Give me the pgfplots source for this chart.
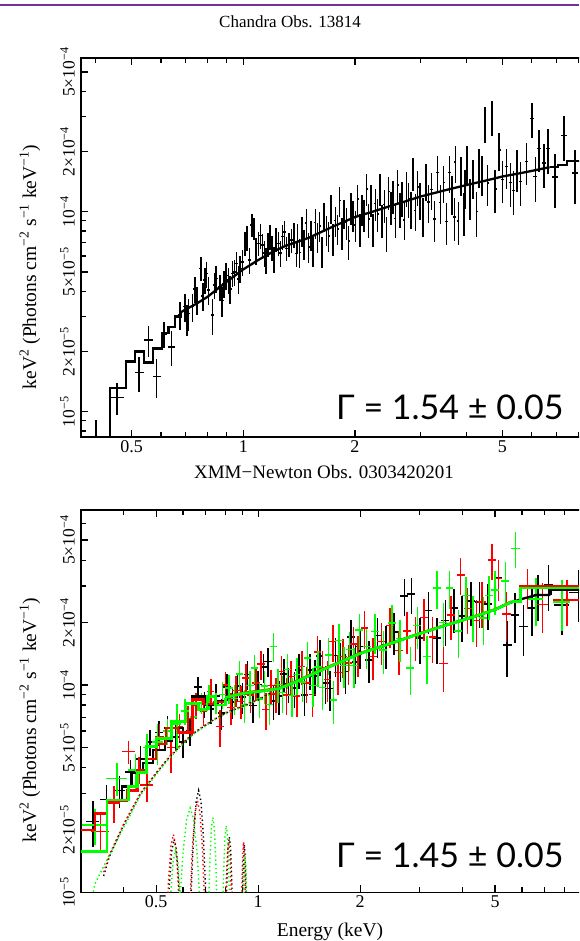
\documentclass[border=0pt]{standalone}
\usepackage{pgfplots}
\pgfplotsset{compat=1.18}
\usepackage{fontspec}
\setmainfont{Liberation Serif}
\newfontfamily\gammafont{Lato}

\definecolor{xgreen}{RGB}{0,255,0}
\definecolor{xred}{RGB}{255,0,0}
\definecolor{slidepurple}{RGB}{112,48,160}

\newcommand{\up}[1]{\textsuperscript{#1}}

\begin{document}
\begin{tikzpicture}
\useasboundingbox (0pt,0pt) rectangle (579pt,941pt);
\clip (0pt,0pt) rectangle (579pt,941pt);
\draw[slidepurple, line width=2.5pt] (0pt,936pt) -- (579pt,936pt);
\node[font=\fontsize{17}{19}\selectfont] at (290pt,919pt) {Chandra Obs. 13814};
\node[font=\fontsize{19}{21}\selectfont] at (324pt,469pt) {XMM−Newton Obs. 0303420201};
\node[rotate=90, font=\fontsize{19.5}{21}\selectfont] at (30pt,674pt) {keV\up{2} (Photons cm\up{−2} s\up{−1} keV\up{−1})};
\node[rotate=90, font=\fontsize{19.5}{21}\selectfont] at (30pt,221pt) {keV\up{2} (Photons cm\up{−2} s\up{−1} keV\up{−1})};
\node[anchor=base, font=\fontsize{19.5}{21}\selectfont] at (330pt,5pt) {Energy (keV)};

% ---------------- Chandra ----------------
\begin{axis}[
  at={(81pt,504.3pt)}, anchor=south west,
  width=533.1pt, height=378.4pt, scale only axis,
  xmode=log, ymode=log,
  xmin=0.365, xmax=10, ymin=7.5e-6, ymax=5.85e-4,
  axis line style={line width=1.6pt},
  tick align=inside,
  major tick length=7pt, minor tick length=5pt,
  every tick/.style={line width=1.2pt, black},
  xtick={0.5,1,2,5}, xticklabels={0.5,1,2,5},
  minor xtick={0.4,0.6,0.7,0.8,0.9,3,4,6,7,8,9},
  ytick={1e-5,2e-5,5e-5,1e-4,2e-4,5e-4},
  yticklabels={{10\up{−5}},{2×10\up{−5}},{5×10\up{−5}},{10\up{−4}},{2×10\up{−4}},{5×10\up{−4}}},
  minor ytick={8e-6,9e-6,3e-5,4e-5,6e-5,7e-5,8e-5,9e-5,3e-4,4e-4},
  xticklabel style={font=\fontsize{18}{19}\selectfont},
  yticklabel style={font=\fontsize{17.5}{18}\selectfont, rotate=90, anchor=south, inner xsep=0pt, inner ysep=6pt},
]
\addplot[draw=none, mark=none, forget plot,
  error bars/.cd, x dir=both, x explicit relative, y dir=both, y explicit relative,
  error mark=none, error bar style={draw=black, line width=1.5pt}]
  table[x=E, y=F, x error=dx, y error=dy] {
E F dx dy
0.400 6.5e-6 0.05 0.40
0.457 1.18e-5 0.046 0.18
0.524 1.57e-5 0.028 0.20
0.555 2.28e-5 0.026 0.18
0.584 1.50e-5 0.025 0.22
0.612 2.44e-5 0.02 0.15
0.641 2.11e-5 0.02 0.20
0.675 3.04e-5 0.012 0.16
0.696 3.35e-5 0.012 0.16
0.705 2.90e-5 0.01 0.18
0.712 3.10e-5 0.01 0.18
0.730 3.35e-5 0.01 0.16
0.740 4.10e-5 0.01 0.15
0.749 3.61e-5 0.01 0.16
0.768 5.21e-5 0.01 0.14
0.778 3.80e-5 0.01 0.16
0.788 4.55e-5 0.01 0.15
0.797 4.90e-5 0.01 0.15
0.805 4.06e-5 0.01 0.16
0.826 3.04e-5 0.01 0.20
0.835 4.30e-5 0.01 0.15
0.844 4.64e-5 0.01 0.15
0.865 4.22e-5 0.01 0.15
0.876 3.60e-5 0.01 0.17
0.887 4.38e-5 0.01 0.15
0.899 4.80e-5 0.01 0.15
0.911 4.55e-5 0.01 0.15
0.922 4.10e-5 0.01 0.16
0.934 4.92e-5 0.01 0.15
0.947 5.00e-5 0.01 0.15
0.960 5.52e-5 0.01 0.14
0.970 4.60e-5 0.01 0.16
0.980 5.20e-5 0.01 0.15
0.995 5.60e-5 0.01 0.15
1.011 6.95e-5 0.008 0.14
1.024 7.40e-5 0.008 0.14
1.038 5.73e-5 0.008 0.15
1.054 8.60e-5 0.008 0.13
1.069 8.26e-5 0.008 0.13
1.083 6.40e-5 0.008 0.15
1.098 6.95e-5 0.008 0.14
1.112 7.60e-5 0.008 0.14
1.126 6.80e-5 0.008 0.14
1.139 6.20e-5 0.008 0.15
1.151 5.73e-5 0.008 0.15
1.165 6.90e-5 0.008 0.14
1.180 7.50e-5 0.008 0.14
1.195 6.60e-5 0.008 0.14
1.210 5.80e-5 0.008 0.15
1.226 7.30e-5 0.008 0.14
1.243 6.95e-5 0.008 0.14
1.260 6.20e-5 0.008 0.15
1.277 7.50e-5 0.008 0.14
1.293 7.90e-5 0.008 0.14
1.309 6.56e-5 0.008 0.14
1.330 6.90e-5 0.008 0.14
1.350 7.22e-5 0.008 0.14
1.370 7.70e-5 0.008 0.14
1.393 6.19e-5 0.008 0.15
1.400 7.40e-5 0.006 0.17
1.419 6.27e-5 0.006 0.17
1.439 8.05e-5 0.006 0.17
1.459 6.90e-5 0.006 0.17
1.480 8.80e-5 0.006 0.17
1.500 6.66e-5 0.006 0.17
1.521 7.64e-5 0.006 0.17
1.542 6.37e-5 0.006 0.17
1.564 8.82e-5 0.006 0.17
1.585 7.53e-5 0.006 0.17
1.607 8.48e-5 0.006 0.17
1.630 6.36e-5 0.006 0.18
1.652 9.49e-5 0.006 0.17
1.675 8.13e-5 0.006 0.17
1.699 7.57e-5 0.006 0.17
1.722 1.04e-4 0.006 0.17
1.746 7.33e-5 0.006 0.18
1.771 9.04e-5 0.006 0.17
1.795 8.20e-5 0.006 0.17
1.820 1.135e-4 0.006 0.17
1.846 7.86e-5 0.006 0.18
1.871 9.82e-5 0.006 0.17
1.897 8.85e-5 0.006 0.18
1.924 7.12e-5 0.006 0.19
1.950 1.051e-4 0.006 0.18
1.978 9.60e-5 0.006 0.18
2.005 8.57e-5 0.006 0.18
2.033 1.159e-4 0.006 0.18
2.061 8.23e-5 0.006 0.19
2.090 1.031e-4 0.006 0.18
2.119 9.71e-5 0.006 0.18
2.149 1.302e-4 0.006 0.18
2.178 9.17e-5 0.006 0.19
2.209 1.153e-4 0.006 0.18
2.240 8.22e-5 0.006 0.19
2.271 1.101e-4 0.006 0.18
2.302 9.76e-5 0.006 0.19
2.334 1.302e-4 0.006 0.18
2.367 9.09e-5 0.006 0.19
2.400 1.084e-4 0.006 0.19
2.433 7.88e-5 0.006 0.20
2.467 1.260e-4 0.006 0.19
2.501 1.059e-4 0.006 0.19
2.536 1.197e-4 0.006 0.19
2.571 9.24e-5 0.006 0.20
2.607 1.359e-4 0.006 0.19
2.643 1.038e-4 0.006 0.20
2.680 1.180e-4 0.006 0.20
2.717 9.09e-5 0.006 0.21
2.755 1.323e-4 0.006 0.20
2.793 1.163e-4 0.006 0.20
2.832 1.034e-4 0.006 0.21
2.871 1.563e-4 0.006 0.19
2.911 1.016e-4 0.006 0.21
2.952 1.331e-4 0.006 0.20
2.993 1.152e-4 0.006 0.21
3.05 9.60e-5 0.007 0.22
3.11 1.43e-4 0.007 0.21
3.16 1.12e-4 0.007 0.22
3.22 1.29e-4 0.007 0.21
3.28 9.20e-5 0.007 0.23
3.34 1.575e-4 0.007 0.21
3.40 1.11e-4 0.007 0.22
3.47 1.40e-4 0.007 0.21
3.53 8.96e-5 0.007 0.24
3.60 1.57e-4 0.007 0.21
3.66 1.235e-4 0.007 0.22
3.71 9.40e-5 0.007 0.24
3.73 1.77e-4 0.007 0.21
3.80 9.00e-5 0.007 0.24
3.87 1.535e-4 0.007 0.22
3.94 1.00e-4 0.007 0.24
3.96 1.32e-4 0.007 0.22
4.01 1.74e-4 0.007 0.22
4.09 1.18e-4 0.007 0.23
4.16 1.49e-4 0.007 0.22
4.26 1.00e-4 0.007 0.25
4.32 1.68e-4 0.007 0.22
4.40 1.55e-4 0.007 0.23
4.49 2.77e-4 0.007 0.20
4.56 1.39e-4 0.007 0.23
4.69 2.99e-4 0.007 0.20
4.78 1.30e-4 0.008 0.24
4.90 2.04e-4 0.008 0.22
5.00 1.45e-4 0.008 0.24
5.13 1.68e-4 0.008 0.23
5.25 1.40e-4 0.008 0.25
5.35 1.28e-4 0.008 0.25
5.47 1.65e-4 0.008 0.24
5.60 1.42e-4 0.008 0.25
5.81 1.78e-4 0.010 0.24
6.00 2.93e-4 0.012 0.20
6.13 1.50e-4 0.012 0.25
6.28 2.07e-4 0.012 0.24
6.47 1.75e-4 0.012 0.25
6.64 2.07e-4 0.012 0.25
6.92 1.49e-4 0.02 0.30
7.33 2.40e-4 0.02 0.25
7.85 1.56e-4 0.02 0.30
};
% folded model
\addplot[black, line width=2.3pt, const plot mark left] coordinates {
(0.40,5e-6)(0.437,1.31e-5)(0.483,1.78e-5)(0.510,2.0e-5)(0.540,1.76e-5)
(0.570,2.07e-5)(0.603,2.47e-5)(0.628,2.66e-5)(0.654,2.99e-5)(0.68,3.15e-5)};
\addplot[black, line width=2.3pt] coordinates {
(0.68,3.15e-5)(0.70,3.25e-5)(0.75,3.48e-5)(0.80,3.75e-5)(0.85,4.1e-5)(0.90,4.45e-5)
(0.95,4.8e-5)(1.0,5.15e-5)(1.1,5.75e-5)(1.2,6.3e-5)(1.3,6.75e-5)(1.5,7.4e-5)
(1.75,8.45e-5)(2.0,9.4e-5)(2.25,1.005e-4)(2.5,1.07e-4)(2.75,1.13e-4)(3.0,1.19e-4)
(3.5,1.28e-4)(4.0,1.36e-4)(4.5,1.43e-4)(5.0,1.5e-4)(5.5,1.55e-4)(6.0,1.6e-4)(6.7,1.67e-4)};
\addplot[black, line width=2.3pt, const plot mark left] coordinates {
(6.7,1.67e-4)(7.05,1.71e-4)(7.45,1.79e-4)(10,1.79e-4)};
\end{axis}
\node[anchor=base east, font=\gammafont\fontsize{34}{38}\selectfont] at (567pt,521pt) {Γ = 1.54 ± 0.05};

% ---------------- XMM-Newton ----------------
\begin{axis}[
  at={(81pt,48.7pt)}, anchor=south west,
  width=516.1pt, height=382.5pt, scale only axis,
  xmode=log, ymode=log,
  xmin=0.3, xmax=10, ymin=1e-5, ymax=7e-4,
  axis line style={line width=1.6pt},
  tick align=inside,
  major tick length=7pt, minor tick length=5pt,
  every tick/.style={line width=1.2pt, black},
  xtick={0.5,1,2,5}, xticklabels={0.5,1,2,5},
  minor xtick={0.4,0.6,0.7,0.8,0.9,3,4,6,7,8,9},
  ytick={1e-5,2e-5,5e-5,1e-4,2e-4,5e-4},
  yticklabels={{10\up{−5}},{2×10\up{−5}},{5×10\up{−5}},{10\up{−4}},{2×10\up{−4}},{5×10\up{−4}}},
  minor ytick={3e-5,4e-5,6e-5,7e-5,8e-5,9e-5,3e-4,4e-4,6e-4},
  xticklabel style={font=\fontsize{18}{19}\selectfont},
  yticklabel style={font=\fontsize{17.5}{18}\selectfont, rotate=90, anchor=south, inner xsep=0pt, inner ysep=6pt},
]
% black
\addplot[draw=none, mark=none, forget plot,
  error bars/.cd, x dir=both, x explicit relative, y dir=both, y explicit relative,
  error mark=none, error bar style={draw=black, line width=1.5pt}]
  table[x=E, y=F, x error=dx, y error=dy] {
E F dx dy
0.325 2.20e-5 0.045 0.25
0.357 2.80e-5 0.045 0.18
0.390 3.10e-5 0.04 0.18
0.420 3.80e-5 0.035 0.15
0.450 4.40e-5 0.03 0.15
0.480 5.30e-5 0.03 0.14
0.510 5.90e-5 0.03 0.14
0.540 6.20e-5 0.025 0.14
0.570 5.60e-5 0.025 0.14
0.600 5.30e-5 0.025 0.16
0.630 6.00e-5 0.025 0.15
0.665 9.80e-5 0.025 0.12
0.695 8.10e-5 0.025 0.14
0.725 7.66e-5 0.025 0.15
0.752 8.84e-5 0.025 0.15
0.780 7.31e-5 0.025 0.17
0.810 9.80e-5 0.025 0.15
0.840 8.28e-5 0.025 0.17
0.870 9.90e-5 0.025 0.16
0.900 8.74e-5 0.025 0.17
0.930 1.122e-4 0.025 0.16
0.965 7.96e-5 0.025 0.18
1.000 1.004e-4 0.025 0.17
1.035 1.222e-4 0.025 0.16
1.070 1.300e-4 0.025 0.16
1.110 8.36e-5 0.025 0.19
1.150 8.83e-5 0.025 0.19
1.190 1.133e-4 0.025 0.18
1.230 1.010e-4 0.025 0.19
1.280 9.68e-5 0.025 0.20
1.320 1.182e-4 0.025 0.19
1.370 8.94e-5 0.025 0.21
1.420 1.182e-4 0.025 0.20
1.470 1.106e-4 0.025 0.20
1.520 1.381e-4 0.025 0.20
1.580 1.020e-4 0.025 0.21
1.630 9.60e-5 0.025 0.22
1.690 1.386e-4 0.025 0.21
1.750 1.316e-4 0.025 0.21
1.810 1.162e-4 0.025 0.22
1.880 1.700e-4 0.025 0.21
1.940 1.293e-4 0.025 0.22
2.000 1.534e-4 0.027 0.22
2.120 1.323e-4 0.027 0.23
2.250 1.733e-4 0.027 0.22
2.380 1.560e-4 0.027 0.23
2.520 1.803e-4 0.027 0.23
2.700 2.690e-4 0.027 0.20
2.830 2.750e-4 0.027 0.20
3.000 1.682e-4 0.027 0.25
3.180 2.290e-4 0.027 0.23
3.370 1.690e-4 0.027 0.25
3.570 2.050e-4 0.027 0.25
3.780 2.350e-4 0.027 0.24
4.000 2.150e-4 0.027 0.25
4.240 2.540e-4 0.027 0.24
4.490 2.510e-4 0.027 0.25
4.760 2.460e-4 0.027 0.25
5.120 3.300e-4 0.027 0.22
5.430 1.560e-4 0.03 0.30
5.730 2.180e-4 0.025 0.27
6.060 1.910e-4 0.03 0.28
6.420 2.350e-4 0.03 0.27
6.700 2.720e-4 0.03 0.25
7.190 3.050e-4 0.03 0.25
7.870 2.430e-4 0.05 0.28
8.800 2.800e-4 0.06 0.28
};
% red
\addplot[draw=none, mark=none, forget plot,
  error bars/.cd, x dir=both, x explicit relative, y dir=both, y explicit relative,
  error mark=none, error bar style={draw=xred, line width=1.5pt}]
  table[x=E, y=F, x error=dx, y error=dy] {
E F dx dy
0.342 1.96e-5 0.06 0.20
0.375 2.70e-5 0.045 0.20
0.414 4.77e-5 0.045 0.13
0.445 3.90e-5 0.03 0.15
0.469 3.30e-5 0.045 0.17
0.512 5.64e-5 0.03 0.15
0.553 5.00e-5 0.025 0.25
0.585 6.30e-5 0.025 0.15
0.620 6.90e-5 0.025 0.15
0.655 8.00e-5 0.025 0.14
0.690 7.50e-5 0.025 0.15
0.725 9.30e-5 0.025 0.15
0.772 6.29e-5 0.025 0.20
0.800 1.000e-4 0.025 0.16
0.830 7.79e-5 0.025 0.18
0.860 9.42e-5 0.025 0.17
0.890 8.34e-5 0.025 0.18
0.920 1.082e-4 0.025 0.17
0.950 8.95e-5 0.025 0.18
0.985 1.021e-4 0.025 0.18
1.020 1.260e-4 0.025 0.16
1.055 7.60e-5 0.025 0.20
1.090 9.94e-5 0.025 0.19
1.130 9.07e-5 0.025 0.19
1.170 1.164e-4 0.025 0.18
1.210 8.96e-5 0.025 0.20
1.250 1.100e-4 0.025 0.19
1.300 8.84e-5 0.025 0.21
1.345 1.230e-4 0.025 0.19
1.390 1.023e-4 0.025 0.20
1.445 9.00e-5 0.025 0.22
1.495 1.444e-4 0.025 0.19
1.550 1.209e-4 0.025 0.21
1.600 1.065e-4 0.025 0.22
1.660 1.620e-4 0.025 0.20
1.720 1.148e-4 0.025 0.22
1.780 1.370e-4 0.025 0.21
1.850 1.278e-4 0.025 0.22
1.910 1.580e-4 0.025 0.21
1.970 1.405e-4 0.025 0.22
2.060 1.880e-4 0.027 0.21
2.180 1.375e-4 0.027 0.23
2.310 1.617e-4 0.027 0.23
2.450 1.934e-4 0.027 0.22
2.600 1.470e-4 0.027 0.24
2.750 1.825e-4 0.027 0.23
2.910 1.710e-4 0.027 0.24
3.090 2.120e-4 0.027 0.23
3.270 1.707e-4 0.027 0.25
3.520 1.270e-4 0.03 0.27
3.700 2.170e-4 0.027 0.24
3.960 3.400e-4 0.027 0.20
4.150 2.340e-4 0.027 0.25
4.400 2.050e-4 0.027 0.26
4.570 2.520e-4 0.027 0.25
4.890 4.010e-4 0.027 0.20
5.120 3.270e-4 0.027 0.22
5.400 2.200e-4 0.03 0.27
6.230 2.980e-4 0.05 0.22
6.900 2.450e-4 0.04 0.27
8.140 2.570e-4 0.09 0.25
};
% green
\addplot[draw=none, mark=none, forget plot,
  error bars/.cd, x dir=both, x explicit relative, y dir=both, y explicit relative,
  error mark=none, error bar style={draw=xgreen, line width=1.5pt}]
  table[x=E, y=F, x error=dx, y error=dy] {
E F dx dy
0.330 2.11e-5 0.087 0.20
0.383 3.55e-5 0.07 0.18
0.434 3.89e-5 0.05 0.20
0.470 5.00e-5 0.03 0.16
0.505 5.30e-5 0.035 0.22
0.540 6.00e-5 0.03 0.14
0.575 6.50e-5 0.03 0.25
0.609 7.50e-5 0.025 0.14
0.645 7.00e-5 0.025 0.13
0.680 8.20e-5 0.025 0.12
0.715 8.80e-5 0.025 0.14
0.750 8.20e-5 0.025 0.12
0.785 9.00e-5 0.025 0.15
0.820 9.68e-5 0.025 0.16
0.850 8.59e-5 0.025 0.17
0.880 1.130e-4 0.025 0.16
0.910 8.03e-5 0.025 0.18
0.945 9.96e-5 0.025 0.17
0.975 1.205e-4 0.025 0.16
1.010 8.58e-5 0.025 0.19
1.045 9.89e-5 0.025 0.18
1.080 8.05e-5 0.025 0.20
1.110 1.530e-4 0.025 0.16
1.145 1.008e-4 0.025 0.19
1.180 9.21e-5 0.025 0.20
1.220 1.186e-4 0.025 0.19
1.260 8.92e-5 0.025 0.21
1.300 1.123e-4 0.025 0.20
1.350 1.032e-4 0.025 0.20
1.400 1.348e-4 0.025 0.19
1.450 9.94e-5 0.025 0.21
1.500 1.218e-4 0.025 0.20
1.550 9.72e-5 0.025 0.22
1.610 1.397e-4 0.025 0.20
1.670 8.47e-5 0.025 0.23
1.730 1.638e-4 0.025 0.20
1.790 1.245e-4 0.025 0.22
1.860 1.485e-4 0.025 0.21
1.920 1.242e-4 0.025 0.22
1.990 1.840e-4 0.027 0.20
2.090 1.533e-4 0.027 0.22
2.210 1.812e-4 0.027 0.22
2.340 1.473e-4 0.027 0.23
2.480 1.994e-4 0.027 0.22
2.620 1.673e-4 0.027 0.23
2.810 1.210e-4 0.027 0.26
2.950 1.936e-4 0.027 0.23
3.150 1.370e-4 0.027 0.26
3.370 2.940e-4 0.027 0.21
3.520 2.000e-4 0.027 0.24
3.670 2.940e-4 0.027 0.21
3.900 1.820e-4 0.027 0.26
4.100 2.700e-4 0.027 0.23
4.300 2.140e-4 0.027 0.25
4.620 2.100e-4 0.027 0.26
4.800 2.700e-4 0.027 0.24
5.000 2.870e-4 0.027 0.24
5.360 3.180e-4 0.027 0.23
5.750 4.560e-4 0.03 0.20
6.600 2.600e-4 0.05 0.26
7.870 2.520e-4 0.06 0.28
};
% folded models
\addplot[black, line width=2.3pt, const plot mark left] coordinates {
(0.30,2.0e-5)(0.33,2.42e-5)(0.358,2.79e-5)(0.396,3.24e-5)(0.424,3.75e-5)(0.458,4.2e-5)
(0.49,4.86e-5)(0.53,5.4e-5)(0.555,6.2e-5)(0.60,5.9e-5)(0.64,8.8e-5)(0.70,8.0e-5)
(0.76,8.4e-5)(0.80,8.6e-5)};
\addplot[black, line width=2.3pt] coordinates {
(0.80,8.6e-5)(0.85,8.9e-5)(0.90,9.1e-5)(1.0,9.3e-5)(1.15,9.6e-5)(1.3,1.04e-4)
(1.5,1.16e-4)(1.75,1.29e-4)(2.0,1.42e-4)(2.5,1.6e-4)(3.0,1.77e-4)(3.5,1.92e-4)
(4.0,2.05e-4)(4.5,2.18e-4)(5.0,2.31e-4)(5.5,2.48e-4)(6.0,2.6e-4)(6.63,2.72e-4)(7.28,2.72e-4)};
\addplot[black, line width=2.3pt, const plot mark left] coordinates {
(7.28,2.72e-4)(7.28,2.87e-4)(10,2.87e-4)};
\addplot[xred, line width=2.5pt, const plot mark left] coordinates {
(0.30,2.0e-5)(0.33,2.4e-5)(0.358,2.75e-5)(0.41,3.1e-5)(0.44,3.9e-5)(0.47,4.4e-5)
(0.50,5.2e-5)(0.535,6.2e-5)(0.58,5.9e-5)(0.64,8.5e-5)(0.69,8.1e-5)(0.74,8.3e-5)(0.80,8.7e-5)};
\addplot[xred, line width=2.5pt] coordinates {
(0.80,8.7e-5)(0.85,8.95e-5)(0.90,9.15e-5)(1.0,9.35e-5)(1.15,9.65e-5)(1.3,1.045e-4)
(1.5,1.165e-4)(1.75,1.295e-4)(2.0,1.425e-4)(2.5,1.6e-4)(3.0,1.775e-4)(3.5,1.925e-4)
(4.0,2.055e-4)(4.5,2.185e-4)(5.0,2.315e-4)(5.6,2.53e-4)};
\addplot[xred, line width=2.5pt, const plot mark left] coordinates {
(5.6,2.53e-4)(5.93,3.0e-4)(10,3.0e-4)};
\addplot[xgreen, line width=2.8pt, const plot mark left] coordinates {
(0.30,1.57e-5)(0.358,2.79e-5)(0.414,3.25e-5)(0.44,3.8e-5)(0.469,5.04e-5)(0.502,5.5e-5)
(0.556,6.65e-5)(0.609,8.16e-5)(0.667,7.6e-5)(0.706,8.8e-5)(0.747,8.0e-5)(0.80,8.7e-5)};
\addplot[xgreen, line width=2.8pt] coordinates {
(0.80,8.7e-5)(0.85,8.9e-5)(0.90,9.1e-5)(1.0,9.3e-5)(1.15,9.6e-5)(1.3,1.04e-4)
(1.5,1.16e-4)(1.75,1.29e-4)(2.0,1.42e-4)(2.5,1.6e-4)(3.0,1.77e-4)(3.5,1.92e-4)
(4.0,2.05e-4)(4.5,2.18e-4)(5.0,2.31e-4)(5.6,2.52e-4)};
\addplot[xgreen, line width=2.8pt, const plot mark left] coordinates {
(5.6,2.52e-4)(5.93,2.94e-4)(10,2.94e-4)};
% model components (power law + lines), dotted
\addplot[black, line width=1.4pt, dash pattern=on 1.4pt off 2.8pt] coordinates {
(0.35,1.2e-5)(0.364,1.49e-5)(0.40,2.1e-5)(0.45,3.0e-5)(0.50,3.75e-5)(0.538,4.35e-5)
(0.60,5.25e-5)(0.65,5.9e-5)(0.70,6.4e-5)(0.738,6.78e-5)(0.80,7.3e-5)(0.90,7.9e-5)
(1.0,8.5e-5)(1.1,9.2e-5)};
\addplot[xred, line width=1.4pt, dash pattern=on 1.4pt off 2.8pt] coordinates {
(0.35,1.25e-5)(0.364,1.52e-5)(0.40,2.12e-5)(0.45,3.02e-5)(0.50,3.78e-5)(0.538,4.38e-5)
(0.60,5.28e-5)(0.65,5.93e-5)(0.70,6.43e-5)(0.738,6.82e-5)(0.80,7.35e-5)(0.90,7.95e-5)
(1.0,8.55e-5)(1.1,9.25e-5)};
\addplot[xgreen, line width=1.4pt, dash pattern=on 1.4pt off 2.8pt] coordinates {
(0.31,7e-6)(0.33,1.1e-5)(0.37,1.6e-5)(0.41,2.2e-5)(0.45,2.95e-5)(0.50,3.7e-5)
(0.538,4.3e-5)(0.60,5.2e-5)(0.65,5.85e-5)(0.70,6.35e-5)(0.738,6.75e-5)(0.80,7.25e-5)
(0.90,7.85e-5)(1.0,8.45e-5)(1.1,9.15e-5)};
\addplot[black, line width=1.4pt, dash pattern=on 1.4pt off 2.8pt] coordinates {
(0.529,2.44e-6)(0.538,5.84e-6)(0.547,1.09e-5)(0.556,1.59e-5)(0.565,1.8e-5)
(0.574,1.59e-5)(0.583,1.09e-5)(0.592,5.84e-6)(0.601,2.44e-6)};
\addplot[black, line width=1.4pt, dash pattern=on 1.4pt off 2.8pt] coordinates {
(0.623,4.19e-6)(0.634,1.007e-5)(0.645,1.88e-5)(0.656,2.74e-5)(0.667,3.1e-5)
(0.678,2.74e-5)(0.689,1.88e-5)(0.700,1.007e-5)(0.711,4.19e-6)};
\addplot[black, line width=1.4pt, dash pattern=on 1.4pt off 2.8pt] coordinates {
(0.794,2.5e-6)(0.801,6.0e-6)(0.808,1.12e-5)(0.815,1.63e-5)(0.822,1.85e-5)
(0.829,1.63e-5)(0.836,1.12e-5)(0.843,6.0e-6)(0.850,2.5e-6)};
\addplot[black, line width=1.4pt, dash pattern=on 1.4pt off 2.8pt] coordinates {
(0.890,2.3e-6)(0.895,5.52e-6)(0.900,1.03e-5)(0.905,1.5e-5)(0.910,1.7e-5)
(0.915,1.5e-5)(0.920,1.03e-5)(0.925,5.52e-6)(0.930,2.3e-6)};
\addplot[xred, line width=1.4pt, dash pattern=on 1.4pt off 2.8pt] coordinates {
(0.526,2.57e-6)(0.535,6.17e-6)(0.544,1.15e-5)(0.553,1.68e-5)(0.562,1.9e-5)
(0.571,1.68e-5)(0.580,1.15e-5)(0.589,6.17e-6)(0.598,2.57e-6)};
\addplot[xred, line width=1.4pt, dash pattern=on 1.4pt off 2.8pt] coordinates {
(0.618,3.72e-6)(0.629,8.93e-6)(0.640,1.668e-5)(0.651,2.43e-5)(0.662,2.75e-5)
(0.673,2.43e-5)(0.684,1.668e-5)(0.695,8.93e-6)(0.706,3.72e-6)};
\addplot[xred, line width=1.4pt, dash pattern=on 1.4pt off 2.8pt] coordinates {
(0.790,2.37e-6)(0.797,5.68e-6)(0.804,1.06e-5)(0.811,1.54e-5)(0.818,1.75e-5)
(0.825,1.54e-5)(0.832,1.06e-5)(0.839,5.68e-6)(0.846,2.37e-6)};
\addplot[xred, line width=1.4pt, dash pattern=on 1.4pt off 2.8pt] coordinates {
(0.885,2.37e-6)(0.890,5.68e-6)(0.895,1.06e-5)(0.900,1.54e-5)(0.905,1.75e-5)
(0.910,1.54e-5)(0.915,1.06e-5)(0.920,5.68e-6)(0.925,2.37e-6)};
\addplot[xgreen, line width=1.4pt, dash pattern=on 1.4pt off 2.8pt] coordinates {
(0.534,2.16e-6)(0.543,5.2e-6)(0.552,9.7e-6)(0.561,1.41e-5)(0.570,1.6e-5)
(0.579,1.41e-5)(0.588,9.7e-6)(0.597,5.2e-6)(0.606,2.16e-6)};
\addplot[xgreen, line width=1.4pt, dash pattern=on 1.4pt off 2.8pt] coordinates {
(0.570,3.45e-6)(0.585,8.28e-6)(0.600,1.547e-5)(0.615,2.25e-5)(0.630,2.55e-5)
(0.645,2.25e-5)(0.660,1.547e-5)(0.675,8.28e-6)(0.690,3.45e-6)};
\addplot[xgreen, line width=1.4pt, dash pattern=on 1.4pt off 2.8pt] coordinates {
(0.705,3.11e-6)(0.7125,7.47e-6)(0.720,1.395e-5)(0.7275,2.03e-5)(0.735,2.3e-5)
(0.7425,2.03e-5)(0.750,1.395e-5)(0.7575,7.47e-6)(0.765,3.11e-6)};
\addplot[xgreen, line width=1.4pt, dash pattern=on 1.4pt off 2.8pt] coordinates {
(0.777,2.84e-6)(0.784,6.82e-6)(0.791,1.274e-5)(0.798,1.853e-5)(0.805,2.1e-5)
(0.812,1.853e-5)(0.819,1.274e-5)(0.826,6.82e-6)(0.833,2.84e-6)};
\addplot[xgreen, line width=1.4pt, dash pattern=on 1.4pt off 2.8pt] coordinates {
(0.895,2.03e-6)(0.900,4.87e-6)(0.905,9.1e-6)(0.910,1.32e-5)(0.915,1.5e-5)
(0.920,1.32e-5)(0.925,9.1e-6)(0.930,4.87e-6)(0.935,2.03e-6)};
\end{axis}
\node[anchor=base east, font=\gammafont\fontsize{34}{38}\selectfont] at (567pt,73pt) {Γ = 1.45 ± 0.05};
\end{tikzpicture}
\end{document}
